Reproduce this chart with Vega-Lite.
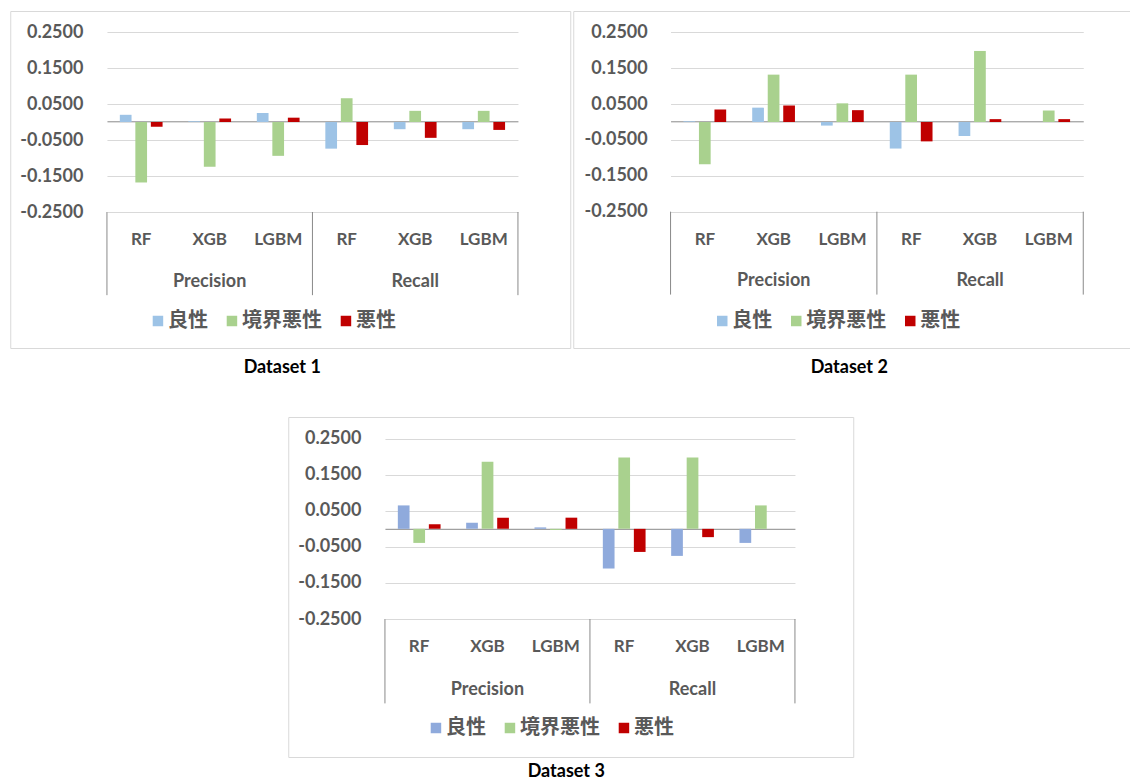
{
  "$schema": "https://vega.github.io/schema/vega-lite/v6.json",
  "padding": {"left": 9, "top": 10, "right": 0, "bottom": 0},
  "background": "white",
  "config": {
    "view": {"stroke": "#d9d9d9", "strokeWidth": 1},
    "legend": {"orient": "none", "direction": "horizontal", "title": null, "symbolType": "square", "symbolSize": 110, "symbolStrokeWidth": 0, "labelFont": "Noto Sans CJK JP", "labelFontSize": 20, "labelFontWeight": "bold", "labelColor": "#595959", "labelOffset": 0, "columnPadding": 14, "padding": 0},
    "axisY": {"grid": true, "gridColor": "#d9d9d9", "gridWidth": 1, "domain": false, "ticks": false, "tickSize": 0, "labelPadding": 0, "labelFont": "Lato", "labelFontSize": 18, "labelFontWeight": "bold", "labelColor": "#595959", "title": null},
    "axisX": {"labels": false, "ticks": false, "grid": false, "domainColor": "#898989", "domainWidth": 1, "title": null},
    "title": {"font": "Lato", "fontSize": 18, "fontWeight": "bold", "color": "#000000", "orient": "bottom", "anchor": "middle"}
  },
  "data": {"values": [
    {"panel": "D1", "metric": "Precision", "model": "RF", "cat": "Precision RF", "cls": "良性", "value": 0.020},
    {"panel": "D1", "metric": "Precision", "model": "RF", "cat": "Precision RF", "cls": "境界悪性", "value": -0.168},
    {"panel": "D1", "metric": "Precision", "model": "RF", "cat": "Precision RF", "cls": "悪性", "value": -0.013},
    {"panel": "D1", "metric": "Precision", "model": "XGB", "cat": "Precision XGB", "cls": "良性", "value": 0.002},
    {"panel": "D1", "metric": "Precision", "model": "XGB", "cat": "Precision XGB", "cls": "境界悪性", "value": -0.124},
    {"panel": "D1", "metric": "Precision", "model": "XGB", "cat": "Precision XGB", "cls": "悪性", "value": 0.010},
    {"panel": "D1", "metric": "Precision", "model": "LGBM", "cat": "Precision LGBM", "cls": "良性", "value": 0.025},
    {"panel": "D1", "metric": "Precision", "model": "LGBM", "cat": "Precision LGBM", "cls": "境界悪性", "value": -0.094},
    {"panel": "D1", "metric": "Precision", "model": "LGBM", "cat": "Precision LGBM", "cls": "悪性", "value": 0.012},
    {"panel": "D1", "metric": "Recall", "model": "RF", "cat": "Recall RF", "cls": "良性", "value": -0.074},
    {"panel": "D1", "metric": "Recall", "model": "RF", "cat": "Recall RF", "cls": "境界悪性", "value": 0.066},
    {"panel": "D1", "metric": "Recall", "model": "RF", "cat": "Recall RF", "cls": "悪性", "value": -0.064},
    {"panel": "D1", "metric": "Recall", "model": "XGB", "cat": "Recall XGB", "cls": "良性", "value": -0.020},
    {"panel": "D1", "metric": "Recall", "model": "XGB", "cat": "Recall XGB", "cls": "境界悪性", "value": 0.031},
    {"panel": "D1", "metric": "Recall", "model": "XGB", "cat": "Recall XGB", "cls": "悪性", "value": -0.044},
    {"panel": "D1", "metric": "Recall", "model": "LGBM", "cat": "Recall LGBM", "cls": "良性", "value": -0.020},
    {"panel": "D1", "metric": "Recall", "model": "LGBM", "cat": "Recall LGBM", "cls": "境界悪性", "value": 0.031},
    {"panel": "D1", "metric": "Recall", "model": "LGBM", "cat": "Recall LGBM", "cls": "悪性", "value": -0.022},

    {"panel": "D2", "metric": "Precision", "model": "RF", "cat": "Precision RF", "cls": "良性", "value": 0.002},
    {"panel": "D2", "metric": "Precision", "model": "RF", "cat": "Precision RF", "cls": "境界悪性", "value": -0.118},
    {"panel": "D2", "metric": "Precision", "model": "RF", "cat": "Precision RF", "cls": "悪性", "value": 0.035},
    {"panel": "D2", "metric": "Precision", "model": "XGB", "cat": "Precision XGB", "cls": "良性", "value": 0.040},
    {"panel": "D2", "metric": "Precision", "model": "XGB", "cat": "Precision XGB", "cls": "境界悪性", "value": 0.132},
    {"panel": "D2", "metric": "Precision", "model": "XGB", "cat": "Precision XGB", "cls": "悪性", "value": 0.046},
    {"panel": "D2", "metric": "Precision", "model": "LGBM", "cat": "Precision LGBM", "cls": "良性", "value": -0.010},
    {"panel": "D2", "metric": "Precision", "model": "LGBM", "cat": "Precision LGBM", "cls": "境界悪性", "value": 0.052},
    {"panel": "D2", "metric": "Precision", "model": "LGBM", "cat": "Precision LGBM", "cls": "悪性", "value": 0.033},
    {"panel": "D2", "metric": "Recall", "model": "RF", "cat": "Recall RF", "cls": "良性", "value": -0.074},
    {"panel": "D2", "metric": "Recall", "model": "RF", "cat": "Recall RF", "cls": "境界悪性", "value": 0.132},
    {"panel": "D2", "metric": "Recall", "model": "RF", "cat": "Recall RF", "cls": "悪性", "value": -0.054},
    {"panel": "D2", "metric": "Recall", "model": "XGB", "cat": "Recall XGB", "cls": "良性", "value": -0.039},
    {"panel": "D2", "metric": "Recall", "model": "XGB", "cat": "Recall XGB", "cls": "境界悪性", "value": 0.198},
    {"panel": "D2", "metric": "Recall", "model": "XGB", "cat": "Recall XGB", "cls": "悪性", "value": 0.008},
    {"panel": "D2", "metric": "Recall", "model": "LGBM", "cat": "Recall LGBM", "cls": "良性", "value": 0.0},
    {"panel": "D2", "metric": "Recall", "model": "LGBM", "cat": "Recall LGBM", "cls": "境界悪性", "value": 0.032},
    {"panel": "D2", "metric": "Recall", "model": "LGBM", "cat": "Recall LGBM", "cls": "悪性", "value": 0.008},

    {"panel": "D3", "metric": "Precision", "model": "RF", "cat": "Precision RF", "cls": "良性", "value": 0.065},
    {"panel": "D3", "metric": "Precision", "model": "RF", "cat": "Precision RF", "cls": "境界悪性", "value": -0.039},
    {"panel": "D3", "metric": "Precision", "model": "RF", "cat": "Precision RF", "cls": "悪性", "value": 0.013},
    {"panel": "D3", "metric": "Precision", "model": "XGB", "cat": "Precision XGB", "cls": "良性", "value": 0.017},
    {"panel": "D3", "metric": "Precision", "model": "XGB", "cat": "Precision XGB", "cls": "境界悪性", "value": 0.186},
    {"panel": "D3", "metric": "Precision", "model": "XGB", "cat": "Precision XGB", "cls": "悪性", "value": 0.031},
    {"panel": "D3", "metric": "Precision", "model": "LGBM", "cat": "Precision LGBM", "cls": "良性", "value": 0.004},
    {"panel": "D3", "metric": "Precision", "model": "LGBM", "cat": "Precision LGBM", "cls": "境界悪性", "value": -0.003},
    {"panel": "D3", "metric": "Precision", "model": "LGBM", "cat": "Precision LGBM", "cls": "悪性", "value": 0.031},
    {"panel": "D3", "metric": "Recall", "model": "RF", "cat": "Recall RF", "cls": "良性", "value": -0.110},
    {"panel": "D3", "metric": "Recall", "model": "RF", "cat": "Recall RF", "cls": "境界悪性", "value": 0.198},
    {"panel": "D3", "metric": "Recall", "model": "RF", "cat": "Recall RF", "cls": "悪性", "value": -0.064},
    {"panel": "D3", "metric": "Recall", "model": "XGB", "cat": "Recall XGB", "cls": "良性", "value": -0.075},
    {"panel": "D3", "metric": "Recall", "model": "XGB", "cat": "Recall XGB", "cls": "境界悪性", "value": 0.198},
    {"panel": "D3", "metric": "Recall", "model": "XGB", "cat": "Recall XGB", "cls": "悪性", "value": -0.023},
    {"panel": "D3", "metric": "Recall", "model": "LGBM", "cat": "Recall LGBM", "cls": "良性", "value": -0.039},
    {"panel": "D3", "metric": "Recall", "model": "LGBM", "cat": "Recall LGBM", "cls": "境界悪性", "value": 0.065},
    {"panel": "D3", "metric": "Recall", "model": "LGBM", "cat": "Recall LGBM", "cls": "悪性", "value": 0.0}
  ]},
  "vconcat": [
    {
      "hconcat": [
        {
          "width": 560, "height": 337,
          "title": {"text": "Dataset 1", "offset": 11, "dx": -8},
          "transform": [{"filter": "datum.panel == 'D1'"}],
          "layer": [
            {
              "mark": {"type": "bar"},
              "encoding": {
                "x": {"field": "cat", "type": "nominal", "sort": ["Precision RF", "Precision XGB", "Precision LGBM", "Recall RF", "Recall XGB", "Recall LGBM"], "scale": {"domain": ["Precision RF", "Precision XGB", "Precision LGBM", "Recall RF", "Recall XGB", "Recall LGBM"], "range": [96.7, 507.7], "paddingInner": 0, "paddingOuter": 0}, "axis": {"orient": "bottom", "offset": -226.7}},
                "xOffset": {"field": "cls", "type": "nominal", "sort": ["良性", "境界悪性", "悪性"], "scale": {"paddingInner": 0.245, "paddingOuter": 0.83}},
                "y": {"field": "value", "type": "quantitative", "scale": {"domain": [-0.25, 0.25], "range": [201, 21], "nice": false}, "axis": {"offset": -72.7, "values": [-0.25, -0.15, -0.05, 0.05, 0.15, 0.25], "labelExpr": "(datum.value < 0 ? '-' : '') + format(abs(datum.value), '.4f')"}},
                "color": {"field": "cls", "type": "nominal", "scale": {"domain": ["良性", "境界悪性", "悪性"], "range": ["#9DC3E6", "#A9D18E", "#C00000"]}, "legend": {"legendX": 137.7, "legendY": 300}}
              }
            },
            {
              "transform": [{"filter": "datum.cls == '良性'"}],
              "mark": {"type": "text", "font": "Lato", "fontSize": 17, "fontWeight": "bold", "color": "#595959", "baseline": "middle"},
              "encoding": {
                "x": {"field": "cat", "type": "nominal", "sort": ["Precision RF", "Precision XGB", "Precision LGBM", "Recall RF", "Recall XGB", "Recall LGBM"], "title": null},
                "y": {"datum": -0.329, "title": null},
                "text": {"field": "model"}
              }
            },
            {
              "transform": [{"filter": "datum.cls == '良性' && datum.model == 'XGB'"}],
              "mark": {"type": "text", "font": "Lato", "fontSize": 18, "fontWeight": "bold", "color": "#595959", "baseline": "middle"},
              "encoding": {
                "x": {"field": "cat", "type": "nominal", "sort": ["Precision RF", "Precision XGB", "Precision LGBM", "Recall RF", "Recall XGB", "Recall LGBM"], "title": null},
                "y": {"datum": -0.444, "title": null},
                "text": {"field": "metric"}
              }
            },
            {
              "transform": [{"filter": "datum.cls == '良性' && datum.model == 'RF'"}],
              "mark": {"type": "rule", "color": "#898989", "strokeWidth": 1},
              "encoding": {
                "x": {"field": "cat", "type": "nominal", "sort": ["Precision RF", "Precision XGB", "Precision LGBM", "Recall RF", "Recall XGB", "Recall LGBM"], "bandPosition": 0, "title": null},
                "y": {"datum": -0.25, "title": null},
                "y2": {"datum": -0.481}
              }
            },
            {
              "transform": [{"filter": "datum.cls == '良性' && datum.cat == 'Recall LGBM'"}],
              "mark": {"type": "rule", "color": "#898989", "strokeWidth": 1},
              "encoding": {
                "x": {"field": "cat", "type": "nominal", "sort": ["Precision RF", "Precision XGB", "Precision LGBM", "Recall RF", "Recall XGB", "Recall LGBM"], "bandPosition": 1, "title": null},
                "y": {"datum": -0.25, "title": null},
                "y2": {"datum": -0.481}
              }
            }
          ]
        },
        {
          "width": 558, "height": 337,
          "title": {"text": "Dataset 2", "offset": 11, "dx": -3},
          "transform": [{"filter": "datum.panel == 'D2'"}],
          "layer": [
            {
              "mark": {"type": "bar"},
              "encoding": {
                "x": {"field": "cat", "type": "nominal", "sort": ["Precision RF", "Precision XGB", "Precision LGBM", "Recall RF", "Recall XGB", "Recall LGBM"], "scale": {"domain": ["Precision RF", "Precision XGB", "Precision LGBM", "Recall RF", "Recall XGB", "Recall LGBM"], "range": [97.3, 510], "paddingInner": 0, "paddingOuter": 0}, "axis": {"orient": "bottom", "offset": -226.7}},
                "xOffset": {"field": "cls", "type": "nominal", "sort": ["良性", "境界悪性", "悪性"], "scale": {"paddingInner": 0.245, "paddingOuter": 0.83}},
                "y": {"field": "value", "type": "quantitative", "scale": {"domain": [-0.25, 0.25], "range": [200.7, 21.3], "nice": false}, "axis": {"offset": -74, "values": [-0.25, -0.15, -0.05, 0.05, 0.15, 0.25], "labelExpr": "(datum.value < 0 ? '-' : '') + format(abs(datum.value), '.4f')"}},
                "color": {"field": "cls", "type": "nominal", "scale": {"domain": ["良性", "境界悪性", "悪性"], "range": ["#9DC3E6", "#A9D18E", "#C00000"]}, "legend": {"legendX": 139, "legendY": 300}}
              }
            },
            {
              "transform": [{"filter": "datum.cls == '良性'"}],
              "mark": {"type": "text", "font": "Lato", "fontSize": 17, "fontWeight": "bold", "color": "#595959", "baseline": "middle"},
              "encoding": {
                "x": {"field": "cat", "type": "nominal", "sort": ["Precision RF", "Precision XGB", "Precision LGBM", "Recall RF", "Recall XGB", "Recall LGBM"], "title": null},
                "y": {"datum": -0.329, "title": null},
                "text": {"field": "model"}
              }
            },
            {
              "transform": [{"filter": "datum.cls == '良性' && datum.model == 'XGB'"}],
              "mark": {"type": "text", "font": "Lato", "fontSize": 18, "fontWeight": "bold", "color": "#595959", "baseline": "middle"},
              "encoding": {
                "x": {"field": "cat", "type": "nominal", "sort": ["Precision RF", "Precision XGB", "Precision LGBM", "Recall RF", "Recall XGB", "Recall LGBM"], "title": null},
                "y": {"datum": -0.444, "title": null},
                "text": {"field": "metric"}
              }
            },
            {
              "transform": [{"filter": "datum.cls == '良性' && datum.model == 'RF'"}],
              "mark": {"type": "rule", "color": "#898989", "strokeWidth": 1},
              "encoding": {
                "x": {"field": "cat", "type": "nominal", "sort": ["Precision RF", "Precision XGB", "Precision LGBM", "Recall RF", "Recall XGB", "Recall LGBM"], "bandPosition": 0, "title": null},
                "y": {"datum": -0.25, "title": null},
                "y2": {"datum": -0.481}
              }
            },
            {
              "transform": [{"filter": "datum.cls == '良性' && datum.cat == 'Recall LGBM'"}],
              "mark": {"type": "rule", "color": "#898989", "strokeWidth": 1},
              "encoding": {
                "x": {"field": "cat", "type": "nominal", "sort": ["Precision RF", "Precision XGB", "Precision LGBM", "Recall RF", "Recall XGB", "Recall LGBM"], "bandPosition": 1, "title": null},
                "y": {"datum": -0.25, "title": null},
                "y2": {"datum": -0.481}
              }
            }
          ]
        }
      ],
      "spacing": 1,
      "resolve": {"scale": {"color": "independent"}, "legend": {"color": "independent"}}
    },
    {
      "width": 565, "height": 340,
      "title": {"text": "Dataset 3", "offset": 6, "dx": -4.5},
      "transform": [{"filter": "datum.panel == 'D3'"}],
      "layer": [
        {
          "mark": {"type": "bar"},
          "encoding": {
            "x": {"field": "cat", "type": "nominal", "sort": ["Precision RF", "Precision XGB", "Precision LGBM", "Recall RF", "Recall XGB", "Recall LGBM"], "scale": {"domain": ["Precision RF", "Precision XGB", "Precision LGBM", "Recall RF", "Recall XGB", "Recall LGBM"], "range": [96.7, 506.7], "paddingInner": 0, "paddingOuter": 0}, "axis": {"orient": "bottom", "offset": -228.2}},
            "xOffset": {"field": "cls", "type": "nominal", "sort": ["良性", "境界悪性", "悪性"], "scale": {"paddingInner": 0.245, "paddingOuter": 0.83}},
            "y": {"field": "value", "type": "quantitative", "scale": {"domain": [-0.25, 0.25], "range": [202, 21.7], "nice": false}, "axis": {"offset": -72.7, "values": [-0.25, -0.15, -0.05, 0.05, 0.15, 0.25], "labelExpr": "(datum.value < 0 ? '-' : '') + format(abs(datum.value), '.4f')"}},
            "color": {"field": "cls", "type": "nominal", "scale": {"domain": ["良性", "境界悪性", "悪性"], "range": ["#8FAADC", "#A9D18E", "#C00000"]}, "legend": {"legendX": 137.7, "legendY": 301}}
          }
        },
        {
          "transform": [{"filter": "datum.cls == '良性'"}],
          "mark": {"type": "text", "font": "Lato", "fontSize": 17, "fontWeight": "bold", "color": "#595959", "baseline": "middle"},
          "encoding": {
            "x": {"field": "cat", "type": "nominal", "sort": ["Precision RF", "Precision XGB", "Precision LGBM", "Recall RF", "Recall XGB", "Recall LGBM"], "title": null},
            "y": {"datum": -0.329, "title": null},
            "text": {"field": "model"}
          }
        },
        {
          "transform": [{"filter": "datum.cls == '良性' && datum.model == 'XGB'"}],
          "mark": {"type": "text", "font": "Lato", "fontSize": 18, "fontWeight": "bold", "color": "#595959", "baseline": "middle"},
          "encoding": {
            "x": {"field": "cat", "type": "nominal", "sort": ["Precision RF", "Precision XGB", "Precision LGBM", "Recall RF", "Recall XGB", "Recall LGBM"], "title": null},
            "y": {"datum": -0.447, "title": null},
            "text": {"field": "metric"}
          }
        },
        {
          "transform": [{"filter": "datum.cls == '良性' && datum.model == 'RF'"}],
          "mark": {"type": "rule", "color": "#898989", "strokeWidth": 1},
          "encoding": {
            "x": {"field": "cat", "type": "nominal", "sort": ["Precision RF", "Precision XGB", "Precision LGBM", "Recall RF", "Recall XGB", "Recall LGBM"], "bandPosition": 0, "title": null},
            "y": {"datum": -0.25, "title": null},
            "y2": {"datum": -0.484}
          }
        },
        {
          "transform": [{"filter": "datum.cls == '良性' && datum.cat == 'Recall LGBM'"}],
          "mark": {"type": "rule", "color": "#898989", "strokeWidth": 1},
          "encoding": {
            "x": {"field": "cat", "type": "nominal", "sort": ["Precision RF", "Precision XGB", "Precision LGBM", "Recall RF", "Recall XGB", "Recall LGBM"], "bandPosition": 1, "title": null},
            "y": {"datum": -0.25, "title": null},
            "y2": {"datum": -0.484}
          }
        }
      ]
    }
  ],
  "spacing": 38,
  "center": true,
  "resolve": {"scale": {"color": "independent"}, "legend": {"color": "independent"}}
}
